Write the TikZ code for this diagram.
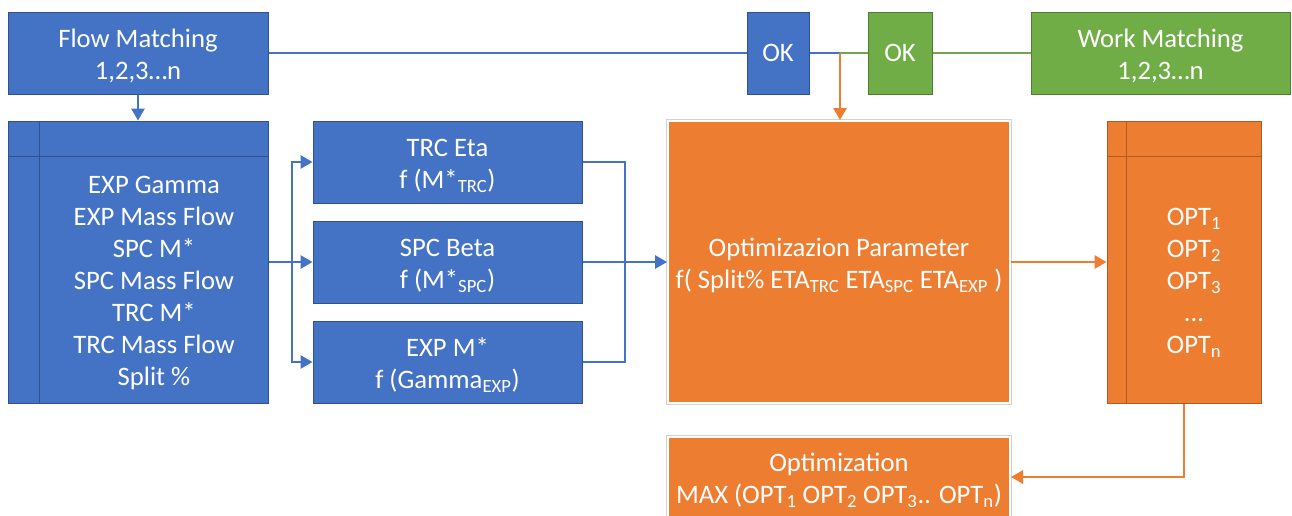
\documentclass[tikz,border=0pt]{standalone}
\usepackage{fontspec}
\setmainfont{Carlito}
\usetikzlibrary{arrows.meta}
\definecolor{cblue}{HTML}{4472C4}
\definecolor{cblueb}{HTML}{2F528F}
\definecolor{cgreen}{HTML}{70AD47}
\definecolor{cgreenb}{HTML}{507E32}
\definecolor{corange}{HTML}{ED7D31}
\definecolor{coranb}{HTML}{AE5A21}
\begin{document}
\begin{tikzpicture}[x=0.75pt,y=-0.75pt,
 box/.style={rectangle, inner sep=0pt, text=white, align=center, font=\fontsize{20}{24}\selectfont, line width=0.75pt},
 two/.style={text height=42.5pt, text depth=3pt},
 bbox/.style={box, fill=cblue, draw=cblueb},
 gbox/.style={box, fill=cgreen, draw=cgreenb},
 obox/.style={box, fill=corange, draw=coranb},
 wbox/.style={box, fill=corange, draw=white, line width=1.5pt, preaction={draw=gray!35, line width=3pt}},
 txt/.style={text=white, align=center, font=\fontsize{20}{24}\selectfont, inner sep=0pt},
 bline/.style={draw=cblue, line width=1.5pt},
 gline/.style={draw=cgreen!80!gray, line width=1.5pt},
 oline/.style={draw=corange, line width=1.5pt},
 barrow/.style={bline, -{Triangle[length=9pt,width=10pt]}},
 oarrow/.style={oline, -{Triangle[length=9pt,width=10pt]}},
 div/.style={line width=0.75pt}
]
\useasboundingbox (0,0) rectangle (1292,515);

% top row
\node[bbox, two, minimum width=195pt, minimum height=61.5pt] (flow) at (138,53) {Flow Matching\\1,2,3…n};
\node[bbox, minimum width=46.5pt, minimum height=61.5pt] (okb) at (778,53) {OK};
\node[gbox, minimum width=48pt, minimum height=61.5pt] (okg) at (900,53) {OK};
\node[gbox, two, minimum width=194.25pt, minimum height=61.5pt] (work) at (1160.5,53) {Work Matching\\1,2,3…n};

% list box
\node[bbox, minimum width=195pt, minimum height=211.5pt] (list) at (138,262) {};
\draw[div, cblueb] ([xshift=24pt]list.north west) -- ([xshift=24pt]list.south west);
\draw[div, cblueb] ([yshift=-27pt]list.north west) -- ([yshift=-27pt]list.north east);
\node[txt] (listtxt) at (154,283) {EXP Gamma\\EXP Mass Flow\\SPC M*\\SPC Mass Flow\\TRC M*\\TRC Mass Flow\\Split \%};

% three function boxes
\node[bbox, two, minimum width=201.75pt, minimum height=61.5pt] (trc) at (447.5,162) {TRC Eta\\f (M*\textsubscript{TRC})};
\node[bbox, two, minimum width=201.75pt, minimum height=61.5pt] (spc) at (447.5,262) {SPC Beta\\f (M*\textsubscript{SPC})};
\node[bbox, two, minimum width=201.75pt, minimum height=61.5pt] (exp) at (447.5,362) {EXP M*\\f (Gamma\textsubscript{EXP})};

% optimization parameter
\node[wbox, two, minimum width=256.5pt, minimum height=211.5pt] (optp) at (839,262) {Optimizazion Parameter\\f( Split\% ETA\textsubscript{TRC} ETA\textsubscript{SPC} ETA\textsubscript{EXP} )};

% OPT list
\node[obox, minimum width=115.5pt, minimum height=211.5pt] (optl) at (1184,262) {};
\draw[div, coranb] ([xshift=15pt]optl.north west) -- ([xshift=15pt]optl.south west);
\draw[div, coranb] ([yshift=-27pt]optl.north west) -- ([yshift=-27pt]optl.north east);
\node[txt] (optltxt) at (1194,283) {OPT\textsubscript{1}\\OPT\textsubscript{2}\\OPT\textsubscript{3}\\...\\OPT\textsubscript{n}};

% optimization
\node[wbox, two, minimum width=256.5pt, minimum height=60pt] (optim) at (839,477) {Optimization\\MAX (OPT\textsubscript{1} OPT\textsubscript{2} OPT\textsubscript{3}.. OPT\textsubscript{n})};

% connectors
\draw[barrow] (flow) -- (list);
\draw[bline] (flow.east) -- (okb.west);
\coordinate (jn) at (840,53);
\draw[bline] (okb.east) -- (jn);
\draw[gline] (jn) -- (okg.west);
\draw[gline] (okg.east) -- (work.west);
\draw[oarrow] (jn) -- (jn |- optp.north);

\coordinate (sl) at (292,262);
\coordinate (sr) at (625,262);
\draw[barrow] (list.east) -- (spc.west);
\draw[barrow] (sl) |- (trc.west);
\draw[barrow] (sl) |- (exp.west);
\draw[bline] (trc.east) -| (sr);
\draw[bline] (exp.east) -| (sr);
\draw[barrow] (spc.east) -- (optp.west);

\draw[oarrow] (optp.east) -- (optl.west);
\draw[oarrow] (optl.south) |- (optim.east);
\end{tikzpicture}
\end{document}
